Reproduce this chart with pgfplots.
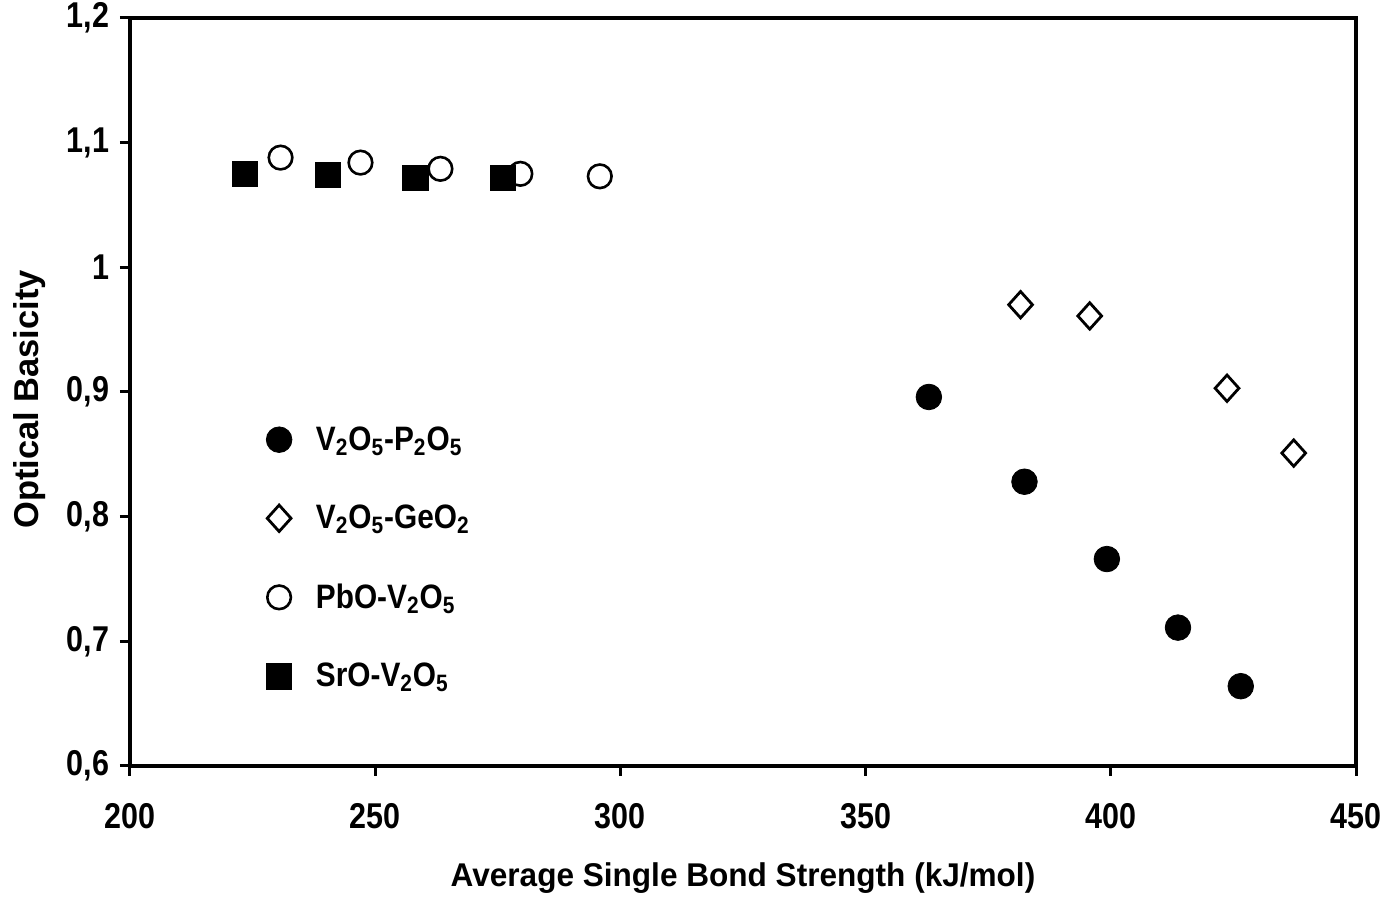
\documentclass[border=0pt]{standalone}
\usepackage{fontspec}
\setmainfont{Liberation Sans}
\newfontfamily\tickfont{Liberation Sans}[FakeStretch=0.85]
\newfontfamily\legfont{Liberation Sans}[FakeStretch=0.88]
\newfontfamily\labfont{Liberation Sans}[FakeStretch=0.96]
\usepackage{pgfplots}
\pgfplotsset{compat=1.18}
\usetikzlibrary{calc}

\begin{document}
\begin{tikzpicture}
\begin{axis}[
  name=ax,
  scale only axis,
  width=613bp, height=374bp,
  xmin=200, xmax=450, ymin=0.6, ymax=1.2,
  xtick={200,250,300,350,400,450},
  ytick={0.6,0.7,0.8,0.9,1,1.1,1.2},
  axis line style={line width=2bp},
  tick style={line width=1.5bp, black},
  major tick length=5bp,
  tick align=outside,
  xtick pos=bottom, ytick pos=left,
  /pgf/number format/assume math mode=true,
  /pgf/number format/use comma,
  /pgf/number format/fixed,
  /pgf/number format/precision=1,
  /pgf/number format/1000 sep={},
  tick label style={font=\tickfont\fontsize{18}{21}\selectfont\bfseries},
  xticklabel style={yshift=-10bp},
  yticklabel style={xshift=-2bp},
  xlabel={Average Single Bond Strength (kJ/mol)},
  ylabel={Optical Basicity},
  xlabel style={font=\labfont\fontsize{16.5}{19}\selectfont\bfseries, at={(axis description cs:0.5,0)}, anchor=center, yshift=-56bp},
  ylabel style={font=\fontsize{17.3}{20}\selectfont\bfseries, at={(axis description cs:-0.0816,0.49)}, anchor=center},
  legend cell align=left,
  legend style={
    at={(rel axis cs:0.106,0.278)}, anchor=west,
    draw=none, fill=none,
    font=\legfont\fontsize{17}{20}\selectfont\bfseries,
    row sep=22bp,
    /tikz/every odd column/.append style={column sep=10bp},
  },
]
\addplot[only marks, mark=*, mark size=6.4bp, draw=black, fill=black] coordinates {
  (362.9,0.896) (382.4,0.828) (399.2,0.766) (413.7,0.711) (426.5,0.664)
};
\addlegendentry{V\textsubscript{2}O\textsubscript{5}-P\textsubscript{2}O\textsubscript{5}}
\addplot[only marks, mark=diamond, mark size=6.6bp, mark options={xscale=1.2, line width=1.4bp, draw=black, fill=white}] coordinates {
  (381.6,0.970) (395.7,0.961) (423.7,0.903) (437.3,0.851)
};
\addlegendentry{V\textsubscript{2}O\textsubscript{5}-GeO\textsubscript{2}}
\addplot[only marks, mark=o, mark size=5.9bp, mark options={line width=1.3bp, draw=black}] coordinates {
  (230.7,1.088) (247.0,1.084) (263.3,1.079) (279.6,1.075) (295.8,1.073)
};
\addlegendentry{PbO-V\textsubscript{2}O\textsubscript{5}}
\addplot[only marks, mark=square*, mark size=6.3bp, draw=black, fill=black] coordinates {
  (223.4,1.075) (240.4,1.074) (258.2,1.072) (276.1,1.072)
};
\addlegendentry{SrO-V\textsubscript{2}O\textsubscript{5}}
\end{axis}
\pgfresetboundingbox
\useasboundingbox ($(ax.south west)+(-65bp,-69bp)$) rectangle ($(ax.north east)+(18bp,9bp)$);
\end{tikzpicture}
\end{document}
